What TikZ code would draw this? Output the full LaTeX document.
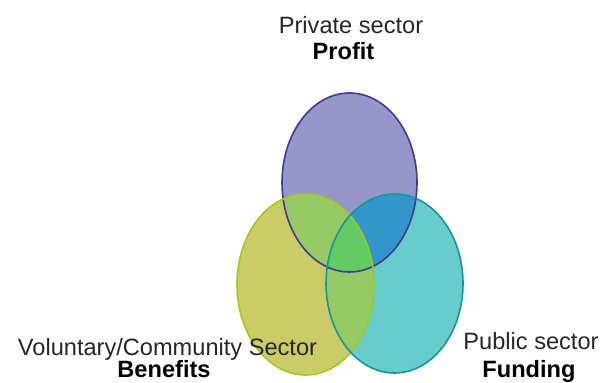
\documentclass[tikz,border=0pt]{standalone}
\usepackage{fontspec}
\setmainfont{Liberation Sans}
\definecolor{privfill}{RGB}{150,150,202}
\definecolor{privline}{RGB}{60,60,150}
\definecolor{volfill}{RGB}{204,204,102}
\definecolor{volline}{RGB}{160,205,20}
\definecolor{pubfill}{RGB}{102,204,204}
\definecolor{publine}{RGB}{20,150,150}
\definecolor{pvfill}{RGB}{150,202,100}
\definecolor{ppfill}{RGB}{50,150,202}
\definecolor{vpfill}{RGB}{150,202,100}
\definecolor{allfill}{RGB}{100,202,100}
\begin{document}
\begin{tikzpicture}[x=0.5pt, y=-0.5pt,
	sector/.style={anchor=base, inner sep=0pt, text=black!85, font=\fontsize{11.8}{14}\selectfont},
	aim/.style={anchor=base, inner sep=0pt, text=black, font=\fontsize{11.8}{14}\selectfont\bfseries},
	rim/.style={line width=0.8pt}]
	\useasboundingbox (0,0) rectangle (608,383);
	\coordinate (priv) at (349.5,182.5);
	\coordinate (vol) at (305.5,284.5);
	\coordinate (pub) at (394.5,283.5);
	% plain fills
	\fill[privfill] (priv) ellipse [x radius=33.75pt, y radius=44.75pt];
	\fill[volfill] (vol) ellipse [x radius=34.25pt, y radius=45.25pt];
	\fill[pubfill] (pub) ellipse [x radius=34.25pt, y radius=44.75pt];
	% overlaps
	\begin{scope}
		\clip (priv) ellipse [x radius=33.75pt, y radius=44.75pt];
		\fill[pvfill] (vol) ellipse [x radius=34.25pt, y radius=45.25pt];
		\fill[ppfill] (pub) ellipse [x radius=34.25pt, y radius=44.75pt];
	\end{scope}
	\begin{scope}
		\clip (vol) ellipse [x radius=34.25pt, y radius=45.25pt];
		\fill[vpfill] (pub) ellipse [x radius=34.25pt, y radius=44.75pt];
		\clip (pub) ellipse [x radius=34.25pt, y radius=44.75pt];
		\fill[allfill] (priv) ellipse [x radius=33.75pt, y radius=44.75pt];
	\end{scope}
	% outlines
	\draw[rim, privline] (priv) ellipse [x radius=33.75pt, y radius=44.75pt];
	\draw[rim, volline] (vol) ellipse [x radius=34.25pt, y radius=45.25pt];
	\draw[rim, publine] (pub) ellipse [x radius=34.25pt, y radius=44.75pt];
	% labels
	\node[sector] (privname) at (351,34) {Private sector};
	\node[aim] (privaim) at (343.5,60) {Profit};
	\node[sector] (volname) at (167.5,356) {Voluntary/Community Sector};
	\node[aim] (volaim) at (164,378) {Benefits};
	\node[sector] (pubname) at (531,350) {Public sector};
	\node[aim] (pubaim) at (529,378) {Funding};
\end{tikzpicture}
\end{document}
